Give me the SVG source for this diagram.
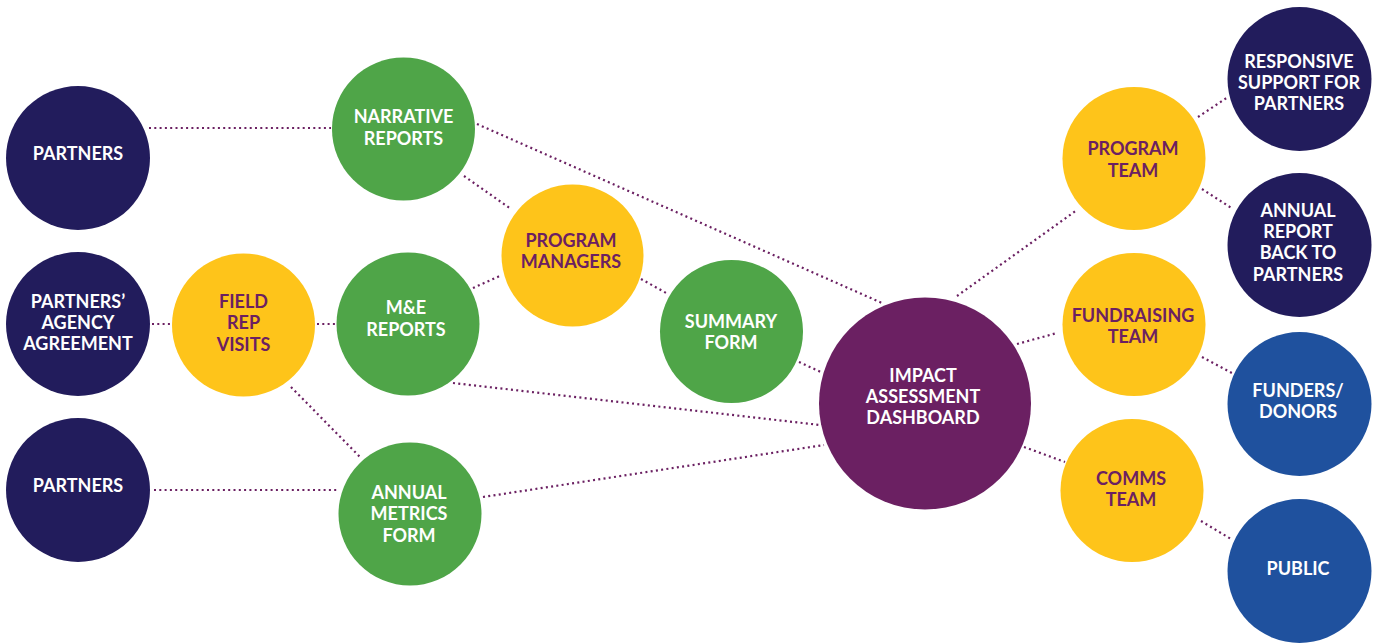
<svg xmlns="http://www.w3.org/2000/svg" width="1374" height="643" viewBox="0 0 1374 643">
<style>
.navy{fill:#221C5C}.green{fill:#4FA548}.yellow{fill:#FEC41A}.purple{fill:#6B2062}.blue{fill:#1F519E}
text{font-family:Lato,"Open Sans","Liberation Sans",sans-serif;font-weight:700;font-size:18px;text-anchor:middle}
.w{fill:#ffffff}.p{fill:#6B2062}
#connectors line{stroke:#6B2062;stroke-width:2.2;stroke-dasharray:2 3.3;fill:none}
</style>
<rect width="1374" height="643" fill="#ffffff"/>
<g id="connectors">
<line x1="149" y1="128" x2="331" y2="128"/>
<line x1="152" y1="324" x2="172" y2="324"/>
<line x1="317" y1="324" x2="336" y2="324"/>
<line x1="154" y1="490" x2="338" y2="490"/>
<line x1="291" y1="387" x2="360" y2="457"/>
<line x1="477" y1="124" x2="882" y2="303"/>
<line x1="464" y1="176" x2="511" y2="209"/>
<line x1="473" y1="288" x2="502" y2="275"/>
<line x1="641" y1="279" x2="668" y2="294"/>
<line x1="799" y1="362" x2="823" y2="373"/>
<line x1="453" y1="383" x2="820" y2="425"/>
<line x1="483" y1="497" x2="824" y2="445"/>
<line x1="957" y1="296" x2="1077" y2="210"/>
<line x1="1017" y1="344" x2="1057" y2="333"/>
<line x1="1024" y1="447" x2="1065" y2="462"/>
<line x1="1198" y1="117" x2="1228" y2="97"/>
<line x1="1202" y1="189" x2="1233" y2="209"/>
<line x1="1202" y1="357" x2="1232" y2="373"/>
<line x1="1201" y1="521" x2="1231" y2="539"/>
</g>
<g id="partners-top"><circle class="navy" cx="78" cy="158" r="72"/><text class="w" x="78" y="160">PARTNERS</text></g>
<g id="partners-agency"><circle class="navy" cx="78" cy="324" r="72"/><text class="w" x="78" y="308">PARTNERS’</text><text class="w" x="78" y="329">AGENCY</text><text class="w" x="78" y="350">AGREEMENT</text></g>
<g id="partners-bottom"><circle class="navy" cx="78" cy="490" r="72"/><text class="w" x="78" y="492">PARTNERS</text></g>
<g id="field-rep"><circle class="yellow" cx="243.5" cy="325" r="71.5"/><text class="p" x="243.5" y="308">FIELD</text><text class="p" x="243.5" y="329">REP</text><text class="p" x="243.5" y="351">VISITS</text></g>
<g id="narrative"><circle class="green" cx="403.5" cy="129" r="71.5"/><text class="w" x="403.5" y="123">NARRATIVE</text><text class="w" x="403.5" y="145">REPORTS</text></g>
<g id="me-reports"><circle class="green" cx="408" cy="324" r="71.5"/><text class="w" x="406" y="314">M&amp;E</text><text class="w" x="406" y="336">REPORTS</text></g>
<g id="annual-metrics"><circle class="green" cx="410" cy="514" r="71.5"/><text class="w" x="409" y="499">ANNUAL</text><text class="w" x="409" y="520">METRICS</text><text class="w" x="409" y="542">FORM</text></g>
<g id="program-managers"><circle class="yellow" cx="572.5" cy="255.5" r="71"/><text class="p" x="571" y="247">PROGRAM</text><text class="p" x="571" y="268">MANAGERS</text></g>
<g id="summary"><circle class="green" cx="731.5" cy="331.5" r="71.5"/><text class="w" x="731" y="328">SUMMARY</text><text class="w" x="731" y="349">FORM</text></g>
<g id="dashboard"><circle class="purple" cx="925" cy="403.5" r="106"/><text class="w" x="923" y="382">IMPACT</text><text class="w" x="923" y="403">ASSESSMENT</text><text class="w" x="923" y="424">DASHBOARD</text></g>
<g id="program-team"><circle class="yellow" cx="1134" cy="158.5" r="71.5"/><text class="p" x="1133" y="155">PROGRAM</text><text class="p" x="1133" y="177">TEAM</text></g>
<g id="fundraising-team"><circle class="yellow" cx="1134" cy="324.5" r="71.5"/><text class="p" x="1133" y="322">FUNDRAISING</text><text class="p" x="1133" y="343">TEAM</text></g>
<g id="comms-team"><circle class="yellow" cx="1132" cy="490.5" r="71.5"/><text class="p" x="1131" y="485">COMMS</text><text class="p" x="1131" y="506">TEAM</text></g>
<g id="responsive-support"><circle class="navy" cx="1299.5" cy="79" r="72"/><text class="w" x="1299" y="68">RESPONSIVE</text><text class="w" x="1299" y="89">SUPPORT FOR</text><text class="w" x="1299" y="110">PARTNERS</text></g>
<g id="annual-report"><circle class="navy" cx="1299.5" cy="245" r="72"/><text class="w" x="1298" y="217">ANNUAL</text><text class="w" x="1298" y="238">REPORT</text><text class="w" x="1298" y="259">BACK TO</text><text class="w" x="1298" y="281">PARTNERS</text></g>
<g id="funders-donors"><circle class="blue" cx="1299.5" cy="404" r="72"/><text class="w" x="1298" y="397">FUNDERS/</text><text class="w" x="1298" y="418">DONORS</text></g>
<g id="public"><circle class="blue" cx="1299.5" cy="571" r="72"/><text class="w" x="1298" y="575">PUBLIC</text></g>
</svg>
